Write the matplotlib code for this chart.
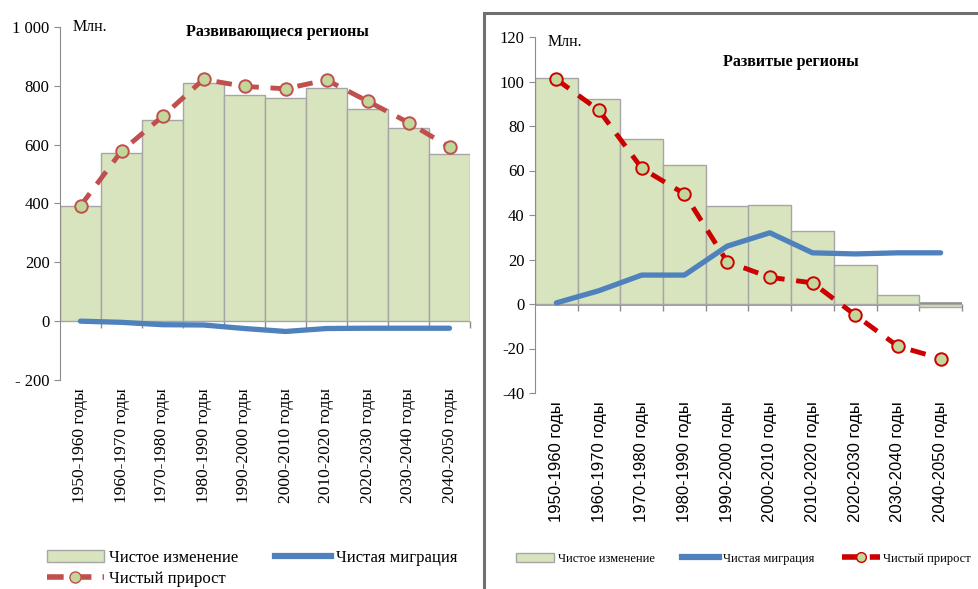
import matplotlib.pyplot as plt
import matplotlib.patches as ptc
from matplotlib.lines import Line2D

periods = ['1950-1960 годы', '1960-1970 годы', '1970-1980 годы', '1980-1990 годы',
           '1990-2000 годы', '2000-2010 годы', '2010-2020 годы', '2020-2030 годы',
           '2030-2040 годы', '2040-2050 годы']

# developing regions, mln
dev_change = [390, 572, 683, 810, 770, 757, 793, 722, 655, 567]
dev_natural = [392, 578, 696, 822, 798, 790, 820, 748, 675, 592]
dev_migration = [0, -4, -12, -13, -25, -35, -25, -24, -24, -24]
dev_yticks = [-200, 0, 200, 400, 600, 800, 1000]
dev_ylabels = ['- 200', '0', '200', '400', '600', '800', '1 000']

# developed regions, mln
adv_change = [101.5, 92, 74, 62.5, 44, 44.5, 33, 17.5, 4, -1.5]
adv_natural = [101, 87, 61, 49.5, 19, 12, 9.5, -5, -19, -24.5]
adv_migration = [0.5, 6, 13, 13, 26, 32, 23, 22.5, 23, 23]
adv_yticks = [-40, -20, 0, 20, 40, 60, 80, 100, 120]

legend_labels = ['Чистое изменение', 'Чистая миграция', 'Чистый прирост']

GREEN = '#d7e4bd'
MARKER_FACE = '#c3d69b'
BLUE = '#4f81bd'
GRAY = '#8c8c8c'
SERIF = 'Liberation Serif'
SANS = 'Liberation Sans'


def panel(ax, change, natural, migration, red, zero_lw):
    x = range(len(change))
    ax.bar(x, change, width=1.0, color=GREEN, edgecolor='#a6a6a6', linewidth=1.0, zorder=2)
    ax.plot(x, migration, color=BLUE, linewidth=3.8, solid_capstyle='round', zorder=3)
    ax.plot(x, natural, color=red, linewidth=3.5, dashes=(3.2, 2.4),
            marker='o', markersize=9, markerfacecolor=MARKER_FACE,
            markeredgecolor=red, markeredgewidth=1.4, zorder=4)
    ax.axhline(0, color=GRAY, linewidth=zero_lw, zorder=1)

    ax.set_xlim(-0.5, len(change) - 0.5)
    for s in ['top', 'right', 'bottom']:
        ax.spines[s].set_visible(False)
    ax.spines['left'].set_color(GRAY)
    ax.tick_params(axis='y', colors=GRAY, length=4, labelcolor='black')
    ax.set_xticks(list(x))
    ax.tick_params(axis='x', length=0, pad=6)

    # category boundary ticks on the zero line
    sec = ax.secondary_xaxis(0, transform=ax.transData)
    sec.set_xticks([i + 0.5 for i in range(len(change))], labels=[])
    sec.tick_params(length=5, color=GRAY, width=1)
    sec.spines['bottom'].set_visible(False)
    return ax


fig = plt.figure(figsize=(9.79, 5.89), dpi=100)

# left: developing regions
ax1 = fig.add_axes([60 / 979, 1 - 380 / 589, 410 / 979, 353 / 589])
panel(ax1, dev_change, dev_natural, dev_migration, '#c0504d', 1.2)
ax1.set_ylim(-200, 1000)
ax1.set_yticks(dev_yticks, labels=dev_ylabels, fontfamily=SERIF, fontsize=12)
ax1.set_xticks(range(len(periods)), labels=periods, rotation=90,
               fontfamily=SERIF, fontsize=12.5)
ax1.text(0.03, 1.0, 'Млн.', transform=ax1.transAxes, fontfamily=SERIF,
         fontsize=11.5, va='center', ha='left')
ax1.text(0.53, 0.985, 'Развивающиеся регионы', transform=ax1.transAxes,
         fontfamily=SERIF, fontsize=11.5, fontweight='bold', va='center', ha='center')

h_bar = ptc.Patch(facecolor=GREEN, edgecolor='#a6a6a6', label=legend_labels[0])
h_mig = Line2D([], [], color=BLUE, linewidth=4.5, label=legend_labels[1])
h_nat1 = Line2D([], [], color='#c0504d', linewidth=4, dashes=(3, 2), marker='o',
                markersize=8, markerfacecolor=MARKER_FACE, markeredgecolor='#c0504d',
                label=legend_labels[2])
fig.legend(handles=[h_bar, h_nat1, h_mig], ncol=2, loc='lower left',
           bbox_to_anchor=(32 / 979, -0.022), frameon=False, handlelength=3.4,
           columnspacing=2.2, labelspacing=0.3, handletextpad=0.3,
           prop={'family': SERIF, 'size': 12})

# right: developed regions
ax2 = fig.add_axes([535 / 979, 1 - 393 / 589, 427 / 979, 356 / 589])
panel(ax2, adv_change, adv_natural, adv_migration, '#cc0000', 2.6)
ax2.set_ylim(-40, 120)
ax2.set_yticks(adv_yticks, labels=[str(v) for v in adv_yticks],
               fontfamily=SERIF, fontsize=12)
ax2.set_xticks(range(len(periods)), labels=periods, rotation=90,
               fontfamily=SANS, fontsize=12)
ax2.text(0.03, 0.985, 'Млн.', transform=ax2.transAxes, fontfamily=SERIF,
         fontsize=11.5, va='center', ha='left')
ax2.text(0.6, 0.93, 'Развитые регионы', transform=ax2.transAxes,
         fontfamily=SERIF, fontsize=11.5, fontweight='bold', va='center', ha='center')

h_nat2 = Line2D([], [], color='#cc0000', linewidth=4, dashes=(3, 2), marker='o',
                markersize=7, markerfacecolor=MARKER_FACE, markeredgecolor='#cc0000',
                label=legend_labels[2])
ax2.legend(handles=[h_bar, h_mig, h_nat2], ncol=3, loc='lower left',
           bbox_to_anchor=(505 / 979, 13 / 589), bbox_transform=fig.transFigure,
           frameon=False, handlelength=3.0, columnspacing=2.2, handletextpad=0.3,
           prop={'family': SERIF, 'size': 9})

# frame around the right panel
fig.patches.append(ptc.Rectangle((484 / 979, -0.02), 0.6, 1.02 - 13 / 589,
                                 transform=fig.transFigure, fill=False,
                                 edgecolor='#707070', linewidth=2.2))

fig.savefig('out.png', dpi=100)
